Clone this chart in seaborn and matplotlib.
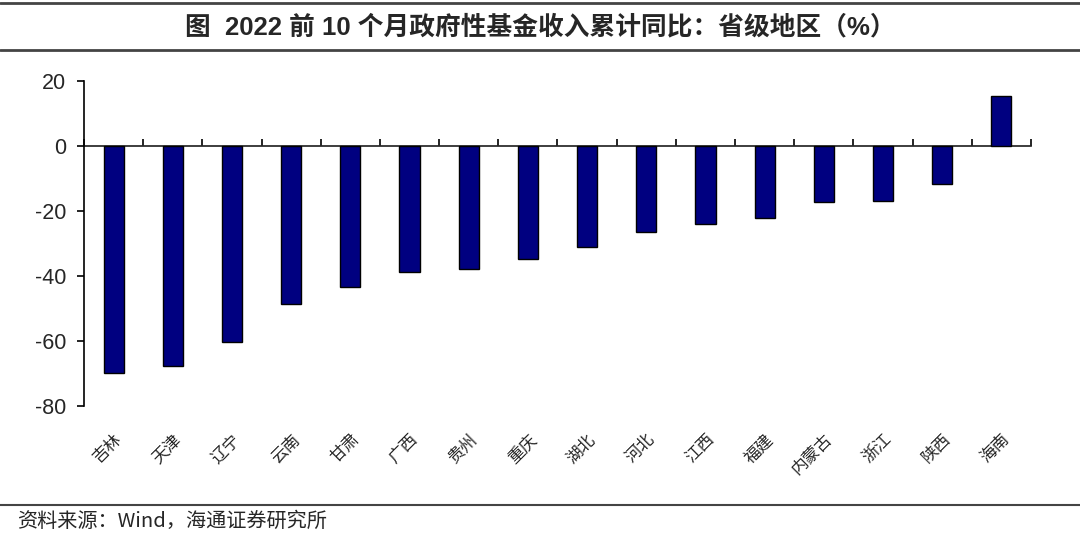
import matplotlib
matplotlib.use("Agg")
import matplotlib.pyplot as plt
import seaborn as sns
import pandas as pd
from matplotlib.lines import Line2D

regions = ["吉林", "天津", "辽宁", "云南", "甘肃", "广西", "贵州", "重庆",
           "湖北", "河北", "江西", "福建", "内蒙古", "浙江", "陕西", "海南"]
values = [-69.8, -67.7, -60.3, -48.6, -43.4, -38.8, -37.8, -34.8,
          -31.1, -26.5, -24.0, -22.2, -17.2, -16.9, -11.8, 15.5]
yticks = [-80, -60, -40, -20, 0, 20]

title = "图  2022 前 10 个月政府性基金收入累计同比：省级地区（%）"
source = "资料来源：Wind，海通证券研究所"

sns.set_theme(style="white")
plt.rcParams['font.family'] = ['Liberation Sans', 'Noto Sans CJK SC', 'DejaVu Sans']

df = pd.DataFrame({"region": regions, "value": values})

fig = plt.figure(figsize=(10.8, 5.36), dpi=100)
ax = fig.add_axes([0.0778, 0.2425, 0.8768, 0.6064])

sns.barplot(data=df, x="region", y="value", color="#000080", saturation=1,
            edgecolor="black", linewidth=1.0, width=0.34, ax=ax)

ax.set_xlim(-0.5, len(regions) - 0.5)
ax.set_ylim(-80, 20)
ax.set_yticks(yticks)
ax.set_yticklabels([str(v) for v in yticks], fontsize=15.5)
ax.set_xlabel("")
ax.set_ylabel("")

for s in ["top", "right", "bottom"]:
    ax.spines[s].set_visible(False)
ax.spines["left"].set_color("black")
ax.spines["left"].set_linewidth(1.2)
ax.tick_params(axis="y", direction="out", length=5, width=1.2, color="black", pad=8, left=True)
ax.tick_params(axis="x", length=0, pad=18)
for lab in ax.get_xticklabels():
    lab.set_rotation(45)
    lab.set_ha("right")
    lab.set_va("top")
    lab.set_rotation_mode("anchor")
    lab.set_fontsize(12)
    lab.set_family(['Noto Sans CJK SC', 'DejaVu Sans'])

# zero axis with boundary ticks
zero_frac = (0 - (-80)) / (20 - (-80))
sec = ax.secondary_xaxis(zero_frac)
sec.set_xticks([i - 0.5 for i in range(len(regions) + 1)])
sec.set_xticklabels([])
sec.tick_params(direction="out", length=5, width=1.2, color="black")
sec.spines["bottom"].set_linewidth(1.2)
sec.spines["bottom"].set_color("black")

# title & frame lines
fig.add_artist(Line2D([0, 1], [1 - 3 / 536, 1 - 3 / 536], color="#444444", lw=2.0))
fig.add_artist(Line2D([0, 1], [1 - 50 / 536, 1 - 50 / 536], color="#444444", lw=2.0))
fig.add_artist(Line2D([0, 1], [1 - 505 / 536, 1 - 505 / 536], color="#444444", lw=1.5))
fig.text(0.5, 1 - 27 / 536, title, ha="center", va="center", fontsize=18.5, fontweight="bold",
         family=['Liberation Sans', 'Noto Sans CJK SC', 'DejaVu Sans'])
fig.text(17 / 1080, 1 - 521 / 536, source, ha="left", va="center", fontsize=14.5,
         family=['Noto Sans CJK SC', 'DejaVu Sans'])

fig.savefig("out.png", dpi=100)
